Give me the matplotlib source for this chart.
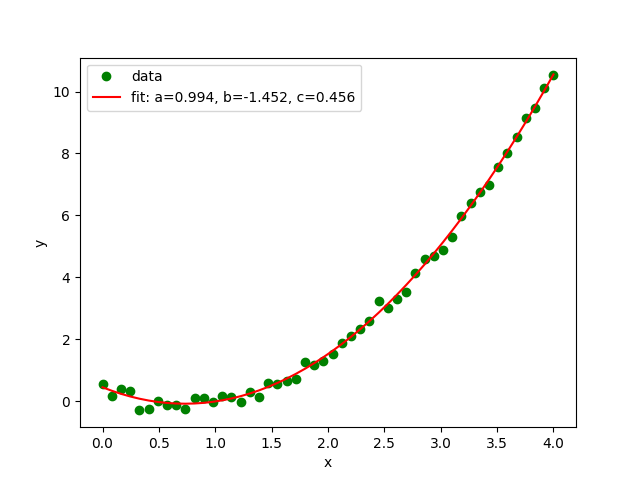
import numpy as np
import matplotlib
matplotlib.use("Agg")
import matplotlib.pyplot as plt

x_data = np.linspace(0, 4, 50)
y_data = [0.55, 0.16, 0.39, 0.35, -0.29, -0.23, 0.0, -0.13, -0.10, -0.26,
          0.10, 0.10, -0.03, 0.19, 0.13, -0.03, 0.29, 0.13, 0.61, 0.55,
          0.65, 0.71, 1.26, 1.16, 1.29, 1.52, 1.90, 2.10, 2.35, 2.61,
          3.23, 3.00, 3.29, 3.52, 4.13, 4.58, 4.68, 4.90, 5.29, 5.97,
          6.39, 6.77, 6.97, 7.58, 8.03, 8.52, 9.13, 9.48, 10.10, 10.52]
fit_params = [0.994, -1.452, 0.456]

a, b, c = fit_params
fig, ax = plt.subplots(figsize=(6.4, 4.8), dpi=100)
ax.plot(x_data, y_data, 'go', label='data')
ax.plot(x_data, a * x_data**2 + b * x_data + c, 'r-',
        label='fit: a=%5.3f, b=%5.3f, c=%5.3f' % (a, b, c))
ax.set_xlabel('x')
ax.set_ylabel('y')
ax.legend(loc='upper left')
fig.savefig('out.png')
